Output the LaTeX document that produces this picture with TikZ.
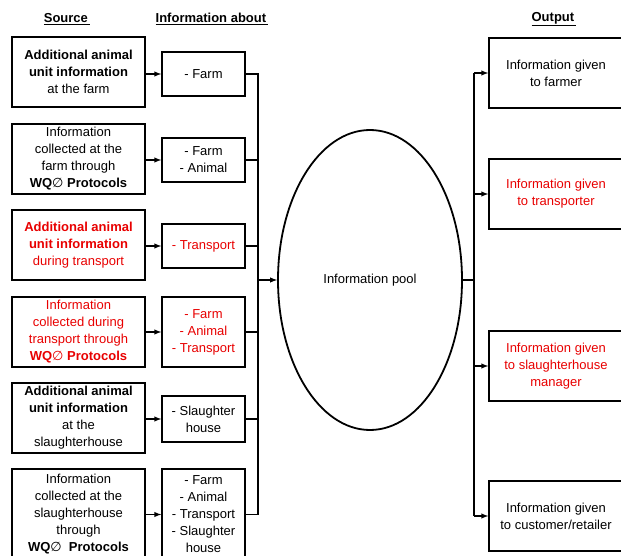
\documentclass[tikz,border=0pt]{standalone}
\usepackage{fontspec}
\setmainfont{Liberation Sans}
\newfontfamily\slashfont{DejaVu Sans}
\usetikzlibrary{shapes.geometric}
\definecolor{infored}{RGB}{232,0,0}
\newcommand{\wqo}{WQ{\slashfont\mdseries ∅}}

\begin{document}
\begin{tikzpicture}[x=1pt, y=-1pt, line width=1.4pt,
  font=\fontsize{13}{17}\selectfont,
  box/.style={draw, rectangle, align=center, inner sep=0pt},
  source node/.style={box, minimum width=133pt, minimum height=70pt},
  about node/.style={box, minimum width=83pt},
  output node/.style={box, minimum width=134pt, minimum height=70pt},
  transport/.style={text=infored},
  head/.style={font=\bfseries\fontsize{13}{17}\selectfont}]

\useasboundingbox (0,0) rectangle (621,556);

\node[head] (h1) at (67,19) {\underline{Source\,}};
\node[head] (h2) at (212,19) {\underline{Information about\,}};
\node[head] (h3) at (554,19) {\underline{Output\,}};

\node[source node] (s1) at (78.5,72)
  {\textbf{Additional animal}\\\textbf{unit information}\\at the farm};
\node[source node] (s2) at (78.5,159)
  {Information\\collected at the\\farm through\\\textbf{\wqo{} Protocols}};
\node[source node, transport] (s3) at (78.5,245)
  {\textbf{Additional animal}\\\textbf{unit information}\\during transport};
\node[source node, transport] (s4) at (78.5,332)
  {Information\\collected during\\transport through\\\textbf{\wqo{} Protocols}};
\node[source node] (s5) at (78.5,418)
  {\textbf{Additional animal}\\\textbf{unit information}\\at the\\slaughterhouse};
\node[source node, minimum height=91pt] (s6) at (78.5,514.5)
  {Information\\collected at the\\slaughterhouse\\through\\\textbf{\wqo\ \ Protocols}};

\node[about node, minimum height=44pt] (i1) at (203.5,74) {- Farm};
\node[about node, minimum height=44pt] (i2) at (203.5,160) {- Farm\\- Animal};
\node[about node, minimum height=44pt, transport] (i3) at (203.5,246) {- Transport};
\node[about node, minimum height=70pt, transport] (i4) at (203.5,332)
  {- Farm\\- Animal\\- Transport};
\node[about node, minimum height=46pt] (i5) at (203.5,419) {- Slaughter\\house};
\node[about node, minimum height=91pt] (i6) at (203.5,514.5)
  {- Farm\\- Animal\\- Transport\\- Slaughter\\house};

\node[ellipse, draw, line width=1.8pt, minimum width=184pt, minimum height=300pt,
      inner sep=0pt] (pool) at (370,280) {Information pool};

\node[output node] (o1) at (556,73) {Information given\\to farmer};
\node[output node, transport] (o2) at (556,194) {Information given\\to transporter};
\node[output node, transport] (o3) at (556,366)
  {Information given\\to slaughterhouse\\manager};
\node[output node] (o4) at (556,516) {Information given\\to customer/retailer};

\coordinate (lbus) at (258,280);
\coordinate (rbus) at (474,280);

\draw[-latex] (s1.east |- i1.west) -- (i1.west);
\draw[-latex] (s2.east |- i2.west) -- (i2.west);
\draw[-latex] (s3.east |- i3.west) -- (i3.west);
\draw[-latex] (s4.east |- i4.west) -- (i4.west);
\draw[-latex] (s5.east |- i5.west) -- (i5.west);
\draw[-latex] (s6.east |- i6.west) -- (i6.west);

\draw (i1.east) -- (i1.east -| lbus) -- (i6.east -| lbus) -- (i6.east);
\draw (i2.east) -- (i2.east -| lbus);
\draw (i3.east) -- (i3.east -| lbus);
\draw (i4.east) -- (i4.east -| lbus);
\draw (i5.east) -- (i5.east -| lbus);
\draw[-latex] (lbus) -- (pool.west);

\draw (pool.east) -- (rbus);
\draw (o1.west -| rbus) -- (o4.west -| rbus);
\draw[-latex] (o1.west -| rbus) -- (o1.west);
\draw[-latex] (o2.west -| rbus) -- (o2.west);
\draw[-latex] (o3.west -| rbus) -- (o3.west);
\draw[-latex] (o4.west -| rbus) -- (o4.west);

\end{tikzpicture}
\end{document}
